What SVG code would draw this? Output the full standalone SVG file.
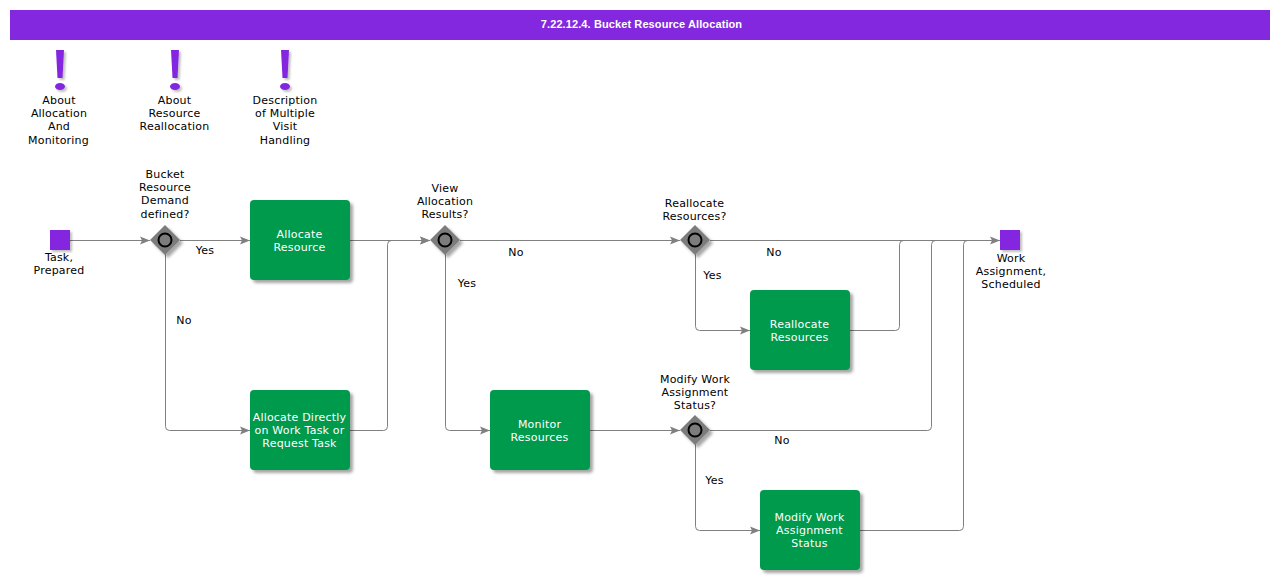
<svg xmlns="http://www.w3.org/2000/svg" width="1280" height="580" viewBox="0 0 1280 580">
<style>
text{font-family:"DejaVu Sans",Verdana,sans-serif;font-size:11px;letter-spacing:.2px;fill:#000;text-anchor:middle}
.w{fill:#fff}
.t{font-family:"Liberation Sans",Arial,sans-serif;font-weight:bold;letter-spacing:.1px;fill:#fff}
.task{fill:#029a4d;filter:url(#s)}
.ev{fill:#8428e0;filter:url(#s2)}
.gw{fill:#7c7c7c;filter:url(#s)}
.c{fill:none;stroke:#000;stroke-width:2}
.i{fill:#8428e0;filter:url(#s2)}
.e{fill:none;stroke:#808080;stroke-width:1}
</style>
<defs>
<filter id="s" x="-20%" y="-20%" width="150%" height="150%"><feDropShadow dx="3" dy="3" stdDeviation="1.5" flood-color="#000" flood-opacity=".35"/></filter>
<filter id="s2" x="-50%" y="-50%" width="220%" height="220%"><feDropShadow dx="2" dy="2" stdDeviation="1" flood-color="#000" flood-opacity=".25"/></filter>
<marker id="a" markerUnits="userSpaceOnUse" markerWidth="11" markerHeight="10" refX="10" refY="4.500" orient="auto"><path d="M0 0.500L10 4.500L0 8.500L2 4.500Z" fill="#808080"/></marker>
</defs>
<rect x="10" y="10" width="1260" height="30" fill="#8428e0"/>
<text class="t" x="641.500" y="28">7.22.12.4. Bucket Resource Allocation</text>
<g id="connectors">
<path class="e" d="M70 240.500H150" marker-end="url(#a)"/>
<path class="e" d="M180 240.500H250" marker-end="url(#a)"/>
<path class="e" d="M165.500 254V426.500q0 4 4 4H250" marker-end="url(#a)"/>
<path class="e" d="M350 240.500H430" marker-end="url(#a)"/>
<path class="e" d="M350 430.500H383.500q4 0 4-4V244.500q0-4 4-4H430" marker-end="url(#a)"/>
<path class="e" d="M460 240.500H680" marker-end="url(#a)"/>
<path class="e" d="M445.500 254V426.500q0 4 4 4H490" marker-end="url(#a)"/>
<path class="e" d="M590 430.500H680" marker-end="url(#a)"/>
<path class="e" d="M710 240.500H1000" marker-end="url(#a)"/>
<path class="e" d="M695.500 254V326.500q0 4 4 4H750" marker-end="url(#a)"/>
<path class="e" d="M850 330.500H895.500q4 0 4-4V244.500q0-4 4-4"/>
<path class="e" d="M710 430.500H927.500q4 0 4-4V244.500q0-4 4-4"/>
<path class="e" d="M695.500 444V526.500q0 4 4 4H760" marker-end="url(#a)"/>
<path class="e" d="M860 530.500H959.500q4 0 4-4V244.500q0-4 4-4"/>
</g>
<g id="labels">
<text x="205" y="254">Yes</text>
<text x="184" y="324">No</text>
<text x="516" y="256">No</text>
<text x="467" y="287">Yes</text>
<text x="774" y="256">No</text>
<text x="712.500" y="279">Yes</text>
<text x="782" y="444">No</text>
<text x="714.500" y="484">Yes</text>
</g>
<g id="note1"><path class="i" d="M56 50H64L62.500 78H57.500Z"/><ellipse class="i" cx="60" cy="86.500" rx="5" ry="3.500"/>
<text x="59" y="104">About</text><text x="59" y="117">Allocation</text><text x="59" y="130">And</text><text x="58.500" y="144">Monitoring</text></g>
<g id="note2"><path class="i" d="M171 50H179L177.500 78H172.500Z"/><ellipse class="i" cx="175" cy="86.500" rx="5" ry="3.500"/>
<text x="174.500" y="104">About</text><text x="174.500" y="117">Resource</text><text x="174.500" y="130">Reallocation</text></g>
<g id="note3"><path class="i" d="M281 50H289L287.500 78H282.500Z"/><ellipse class="i" cx="285" cy="86.500" rx="5" ry="3.500"/>
<text x="285" y="104">Description</text><text x="285" y="117">of Multiple</text><text x="285" y="130">Visit</text><text x="285" y="144">Handling</text></g>
<g id="start"><rect class="ev" x="50" y="230" width="20" height="20"/><text x="59" y="261">Task,</text><text x="59" y="274">Prepared</text></g>
<g id="gw1"><path class="gw" d="M165 225L180 240L165 255L150 240Z"/><circle class="c" cx="165" cy="240" r="6.500"/>
<text x="165" y="178">Bucket</text><text x="165" y="191">Resource</text><text x="165" y="204">Demand</text><text x="165" y="218">defined?</text></g>
<g id="allocate"><rect class="task" x="250" y="200" width="100" height="80" rx="4"/><text class="w" x="299.500" y="238">Allocate</text><text class="w" x="299.500" y="251">Resource</text></g>
<g id="direct"><rect class="task" x="250" y="390" width="100" height="80" rx="4"/><text class="w" x="299.500" y="421">Allocate Directly</text><text class="w" x="299.500" y="434">on Work Task or</text><text class="w" x="299.500" y="447">Request Task</text></g>
<g id="gw2"><path class="gw" d="M445 225L460 240L445 255L430 240Z"/><circle class="c" cx="445" cy="240" r="6.500"/>
<text x="445" y="192">View</text><text x="445" y="205">Allocation</text><text x="445" y="218">Results?</text></g>
<g id="monitor"><rect class="task" x="490" y="390" width="100" height="80" rx="4"/><text class="w" x="539.500" y="428">Monitor</text><text class="w" x="539.500" y="441">Resources</text></g>
<g id="gw3"><path class="gw" d="M695 225L710 240L695 255L680 240Z"/><circle class="c" cx="695" cy="240" r="6.500"/>
<text x="694.500" y="207">Reallocate</text><text x="694.500" y="220">Resources?</text></g>
<g id="reallocate"><rect class="task" x="750" y="290" width="100" height="80" rx="4"/><text class="w" x="799.500" y="328">Reallocate</text><text class="w" x="799.500" y="341">Resources</text></g>
<g id="gw4"><path class="gw" d="M695 415L710 430L695 445L680 430Z"/><circle class="c" cx="695" cy="430" r="6.500"/>
<text x="695" y="383">Modify Work</text><text x="695" y="396">Assignment</text><text x="695" y="409">Status?</text></g>
<g id="modify"><rect class="task" x="760" y="490" width="100" height="80" rx="4"/><text class="w" x="809.500" y="521">Modify Work</text><text class="w" x="809.500" y="534">Assignment</text><text class="w" x="809.500" y="547">Status</text></g>
<g id="end"><rect class="ev" x="1000" y="230" width="20" height="20"/><text x="1011" y="262">Work</text><text x="1011" y="275">Assignment,</text><text x="1011" y="288">Scheduled</text></g>
</svg>
